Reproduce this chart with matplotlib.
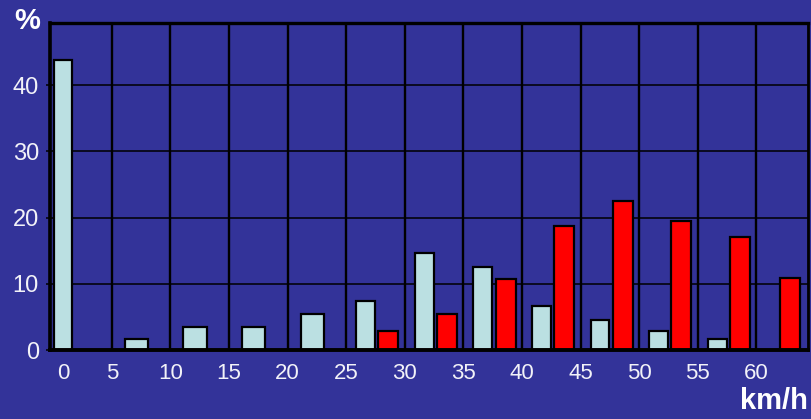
import numpy as np
import matplotlib
matplotlib.use("Agg")
import matplotlib.pyplot as plt

# ---- data ----
bins = [0, 5, 10, 15, 20, 25, 30, 35, 40, 45, 50, 55, 60]          # km/h class start
cyan_vals = [43.8, 1.6, 3.4, 3.4, 5.4, 7.4, 14.6, 12.5, 6.7, 4.5, 2.8, 1.6, 0.0]
red_vals = [0.0, 0.0, 0.0, 0.0, 0.0, 2.8, 5.5, 10.7, 18.7, 22.5, 19.5, 17.1, 10.9]
x_tick_vals = [5, 10, 15, 20, 25, 30, 35, 40, 45, 50, 55, 60]
y_tick_vals = [0, 10, 20, 30, 40]

BG = "#333399"
CYAN = "#BBE0E2"
RED = "#FF0000"
TXT = "#F2F2F8"

plt.rcParams["font.family"] = ["Liberation Sans", "DejaVu Sans"]

fig = plt.figure(figsize=(8.11, 4.19), dpi=100, facecolor=BG)
ax = fig.add_axes([50 / 811, 69 / 419, 758 / 811, 327 / 419])
ax.set_facecolor(BG)

b = np.array(bins, dtype=float)
cy = np.array(cyan_vals)
rd = np.array(red_vals)

cx = b + np.where(rd > 0, 1.65, 2.1)
cw = np.where(rd > 0, 1.6, 2.0)
cx[0] = 0.85   # the stationary (0 km/h) class sits under its own label
cw[0] = 1.55
rx = b + np.where(cy > 0, 3.6, 2.85)

mc = cy > 0
mr = rd > 0
ax.bar(cx[mc], cy[mc], width=cw[mc], color=CYAN, edgecolor="black",
       linewidth=1.6, zorder=3)
ax.bar(rx[mr], rd[mr], width=1.7, color=RED, edgecolor="black",
       linewidth=1.6, zorder=3)

ax.set_xlim(-0.28, 64.4)
ax.set_ylim(0, 49.4)

# grid
for xv in x_tick_vals:
    ax.axvline(xv, color="black", linewidth=1.7, zorder=1)
for yv in y_tick_vals[1:]:
    ax.axhline(yv, color="black", linewidth=1.1, zorder=1)

ax.set_xticks([cx[0]] + x_tick_vals)
ax.set_xticklabels(["0"] + [str(v) for v in x_tick_vals])
ax.set_yticks(y_tick_vals)
ax.set_yticklabels([str(v) for v in y_tick_vals])
ax.tick_params(axis="x", length=0, pad=9, labelsize=16, labelcolor=TXT)
ax.tick_params(axis="y", length=3, width=1.1, color="black", pad=5,
               labelsize=17, labelcolor=TXT)

for s, lw in (("left", 2.6), ("bottom", 2.8), ("top", 2.4), ("right", 2.0)):
    ax.spines[s].set_color("black")
    ax.spines[s].set_linewidth(lw)
    ax.spines[s].set_zorder(4)

fig.text(27 / 811, 1 - 21 / 419, "%", color="white", fontsize=21,
         fontweight="bold", ha="center", va="center")
fig.text(808 / 811, 1 - 401 / 419, "km/h", color="white", fontsize=21,
         fontweight="bold", ha="right", va="center")

fig.savefig("out.png", dpi=100, facecolor=BG)
